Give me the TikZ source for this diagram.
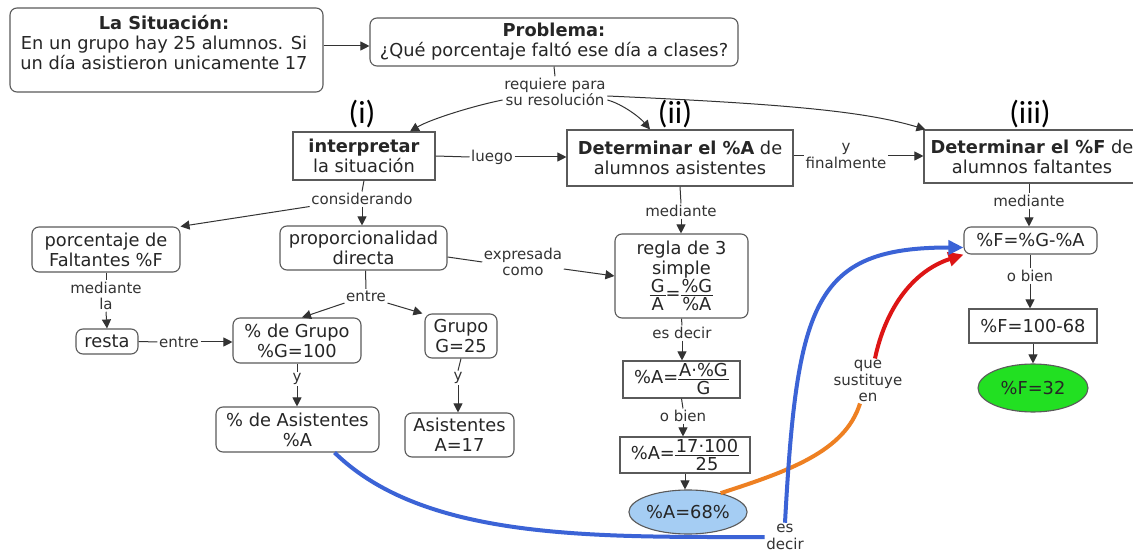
\documentclass[tikz,border=0pt]{standalone}
\usepackage{fontspec}
\setmainfont{DejaVu Sans}
\newfontfamily\romfont{Carlito}
\usetikzlibrary{arrows.meta,shapes.geometric}
\definecolor{boxc}{HTML}{5A5A5A}
\definecolor{linec}{HTML}{333333}
\definecolor{bluec}{HTML}{3B63D6}
\definecolor{redc}{HTML}{DD1515}
\definecolor{orac}{HTML}{EE8022}
\definecolor{ellblue}{HTML}{A5CDF3}
\definecolor{ellgreen}{HTML}{22E022}
\newcommand{\myfrac}[2]{{\renewcommand{\arraystretch}{0}\setlength{\arrayrulewidth}{1pt}\setlength{\tabcolsep}{1pt}\begin{tabular}{c}\rule[-2.5pt]{0pt}{13.5pt}#1\\\hline\rule[-1pt]{0pt}{15.5pt}#2\end{tabular}}}
\tikzset{
  nodefont/.style={font=\fontsize{17.8}{20}\selectfont},
  lblfont/.style={font=\fontsize{15}{16.5}\selectfont},
  rbox/.style={draw=boxc, line width=1.1pt, rounded corners=7pt, align=center, inner sep=0pt, nodefont, text=black!85},
  sbox/.style={rbox, rounded corners=0pt},
  ell/.style={draw=boxc, line width=1.1pt, ellipse, inner sep=0pt, nodefont, text=black!85},
  lbl/.style={align=center, inner sep=1.5pt, lblfont, text=black!80},
  ln/.style={draw=linec, line width=1pt},
  arr/.style={ln, -{Triangle[length=9pt,width=9pt]}},
  big/.style={-{Triangle[length=15pt,width=14pt]}, line width=4pt},
  roman/.style={font=\romfont\fontsize{32}{32}\selectfont, inner sep=0pt},
}
\begin{document}
\begin{tikzpicture}[x=1pt,y=-1pt]
\useasboundingbox (0,0) rectangle (1133,553);
\fill[white] (0,0) rectangle (1133,553);
\clip (0,0) rectangle (1133,553);

% nodes
\node[rbox, minimum width=313pt, minimum height=84pt] (sit) at (166.5,50) {};
\node[nodefont, align=center, inner sep=0pt, text=black!85] (sittxt) at (164,43) {\textbf{La Situación:}\\En un grupo hay 25 alumnos. Si\\un día asistieron unicamente 17};
\node[rbox, minimum width=368pt, minimum height=48pt] (prob) at (554,42) {\textbf{Problema:}\\¿Qué porcentaje faltó ese día a clases?};
\node[lbl] (req) at (555,92) {requiere para\\su resolución};

\node[roman] (r1) at (362,114) {(i)};
\node[roman] (r2) at (675,114) {(ii)};
\node[roman] (r3) at (1030,114) {(iii)};

\node[sbox, minimum width=142pt, minimum height=48pt] (interp) at (364,156) {\textbf{interpretar}\\la situación};
\node[sbox, minimum width=226pt, minimum height=56pt] (detA) at (680,158) {\textbf{Determinar el \%A} de\\alumnos asistentes};
\node[sbox, minimum width=216pt, minimum height=53pt] (detF) at (1032,156.5) {\textbf{Determinar el \%F} de\\alumnos faltantes};

\node[lbl] (luego) at (492,157) {luego};
\node[lbl] (yfin) at (846,156) {y\\finalmente};
\node[lbl] (medA) at (681,211) {mediante};
\node[lbl] (medF) at (1029,201) {mediante};

\node[rbox, minimum width=133pt, minimum height=27pt] (fF1) at (1030.5,240.5) {\%F=\%G-\%A};
\node[lbl] (obF) at (1030,276) {o bien};
\node[sbox, minimum width=128pt, minimum height=34pt] (fF2) at (1033,326) {\%F=100-68};
\node[ell, fill=ellgreen, minimum width=110pt, minimum height=48pt] (ellF) at (1033,388) {\%F=32};

\node[lbl] (cons) at (362,199) {considerando};
\node[rbox, minimum width=148pt, minimum height=45pt] (pF) at (106,249.5) {porcentaje de\\Faltantes \%F};
\node[lbl] (medla) at (106,296) {mediante\\la};
\node[rbox, minimum width=62pt, minimum height=25pt] (resta) at (107,341.5) {resta};
\node[lbl] (entre1) at (179,342) {entre};
\node[rbox, minimum width=167pt, minimum height=44pt] (prop) at (363.5,248) {proporcionalidad\\directa};
\node[lbl] (expr) at (523,262) {expresada\\como};
\node[lbl] (entre2) at (366,296) {entre};
\node[rbox, minimum width=128pt, minimum height=45pt] (pG) at (297,340.5) {\% de Grupo\\\%G=100};
\node[rbox, minimum width=72pt, minimum height=44pt] (G25) at (461,336) {Grupo\\G=25};
\node[lbl] (y1) at (297,379) {y};
\node[lbl] (y2) at (458,378) {y};
\node[rbox, minimum width=163pt, minimum height=45pt] (pAs) at (297.5,429.5) {\% de Asistentes\\\%A};
\node[rbox, minimum width=109pt, minimum height=44pt] (A17) at (459.5,435) {Asistentes\\A=17};

\node[rbox, minimum width=133pt, minimum height=84pt] (regla) at (681.5,276) {regla de 3\\simple\\\myfrac{G}{A}=\myfrac{\%G}{\%A}};
\node[lbl] (esd1) at (682,333) {es decir};
\node[sbox, minimum width=117pt, minimum height=37pt] (fA1) at (681.5,379.5) {\%A=\myfrac{A·\%G}{G}};
\node[lbl] (obA) at (683,416) {o bien};
\node[sbox, minimum width=130pt, minimum height=36pt] (fA2) at (685,455) {\%A=\myfrac{17·100}{25}};
\node[ell, fill=ellblue, minimum width=112pt, minimum height=44pt] (ellA) at (688,512) {\%A=68\%};

\node[lbl] (esd2) at (785,537) {es\\decir};
\node[lbl] (que) at (868,381) {que\\sustituye\\en};

% connectors
\draw[arr] ([yshift=-4pt]prob.west -| sit.east) -- ([yshift=-4pt]prob.west);
\draw[ln] (prob.south) -- (req.north);
\draw[arr] ([yshift=-8pt]req.west) .. controls +(-30,6) and +(20,-12) .. ([xshift=46pt]interp.north);
\draw[arr] ([yshift=-8pt]req.east) .. controls +(15,4) and +(-10,-12) .. ([xshift=-30pt]detA.north);
\draw[arr] ([yshift=-4pt]req.east) .. controls +(180,8) and +(-60,-18) .. ([xshift=2pt]detF.north west);

\draw[ln] (interp.east) -- (luego.west);
\draw[arr] (luego.east) -- (luego.east -| detA.west);
\draw[ln] (yfin.west -| detA.east) -- (yfin.west);
\draw[arr] (yfin.east) -- (yfin.east -| detF.west);

\draw[ln] (interp.south) -- (cons.north);
\draw[arr] (cons.south) -- (cons.south |- prop.north);
\draw[arr] (cons.south west) -- (pF.north east);

\draw[ln] (pF.south) -- (medla.north);
\draw[arr] (medla.south) -- (resta.north);
\draw[ln] (resta.east) -- (entre1.west);
\draw[arr] (entre1.east) -- (entre1.east -| pG.west);

\draw[ln] ([yshift=-9pt]prop.east) -- (expr.west);
\draw[arr] ([yshift=-7pt]expr.east) -- (regla.west);

\draw[ln] ([xshift=2pt]prop.south) -- (entre2.north);
\draw[arr] (entre2.south west) -- ([xshift=5pt]pG.north);
\draw[arr] (entre2.south east) -- ([xshift=-2pt]G25.north west);

\draw[ln] (pG.south) -- (y1.north);
\draw[arr] (y1.south) -- (y1.south |- pAs.north);
\draw[ln] (G25.south) -- (y2.north);
\draw[arr] (y2.south) -- (y2.south |- A17.north);

\draw[ln] (detA.south) -- (medA.north);
\draw[arr] (medA.south) -- (medA.south |- regla.north);
\draw[ln] (regla.south) -- (esd1.north);
\draw[arr] (esd1.south) -- (esd1.south |- fA1.north);
\draw[ln] (fA1.south) -- (obA.north);
\draw[arr] (obA.south) -- (obA.south |- fA2.north);
\draw[arr] (fA2.south) -- (fA2.south |- ellA.north);

\draw[ln] (detF.south -| medF.north) -- (medF.north);
\draw[arr] (medF.south) -- (medF.south |- fF1.north);
\draw[ln] (fF1.south -| obF.north) -- (obF.north);
\draw[arr] (obF.south) -- (obF.south |- fF2.north);
\draw[arr] (fF2.south) -- (ellF.north);

% coloured connectors
\draw[orac, line width=4pt] (ellA.30) .. controls +(68,-22) and +(-15,48) .. ([xshift=-8pt]que.south);
\draw[redc, big] ([xshift=7pt]que.north) .. controls +(10,-48) and +(-52,17) .. (fF1.south west);
\draw[bluec, line width=4pt] ([xshift=37pt]pAs.south) .. controls +(90,88) and +(-170,0) .. (esd2.west);
\draw[bluec, big] (esd2.north) .. controls +(12,-220) and +(-150,0) .. ([yshift=-7pt]fF1.west);
\end{tikzpicture}
\end{document}
